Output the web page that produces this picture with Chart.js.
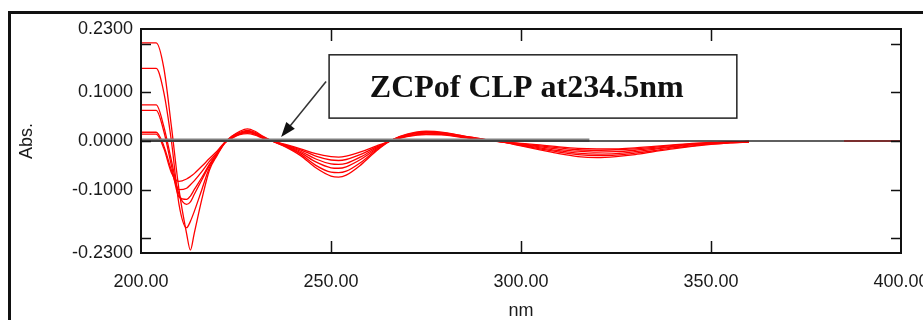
<!DOCTYPE html>
<html>
<head>
<meta charset="utf-8">
<script src="https://cdn.jsdelivr.net/npm/chart.js@4.4.1/dist/chart.umd.min.js"></script>
<style>
  html, body { margin: 0; padding: 0; background: #fff; }
  #wrap { width: 923px; height: 320px; }
</style>
</head>
<body>
<div id="wrap"><canvas id="spectra"></canvas></div>
<script>
// wavelength grid (nm) shared by all derivative spectra
var wavelengths = [200, 204, 206, 208, 210, 212, 213, 214, 216, 218,
                   220, 222, 224, 226, 228, 230, 232, 234.5, 238, 242,
                   246, 250, 252, 254, 258, 262, 266, 270, 275, 280,
                   285, 290, 295, 300, 305, 310, 315, 320, 325, 330,
                   335, 340, 345, 350, 355, 360];

// first-derivative absorbance, one array per standard
var std1 = [0.014, 0.014, -0.015, -0.065, -0.083, -0.078, -0.073, -0.067, -0.052, -0.036,
            -0.021, -0.003, 0.006, 0.013, 0.015, 0.012, 0.006, 0, -0.007, -0.016,
            -0.026, -0.032, -0.033, -0.031, -0.022, -0.010, 0.001, 0.009, 0.013, 0.012,
            0.007, 0.003, -0.001, -0.005, -0.008, -0.012, -0.015, -0.016, -0.016, -0.014,
            -0.011, -0.008, -0.005, -0.003, -0.002, -0.001];
var std2 = [0.018, 0.018, -0.010, -0.060, -0.100, -0.097, -0.090, -0.082, -0.063, -0.042,
            -0.024, -0.004, 0.007, 0.014, 0.017, 0.014, 0.007, 0, -0.008, -0.018,
            -0.031, -0.039, -0.040, -0.038, -0.027, -0.012, 0.001, 0.010, 0.014, 0.013,
            0.008, 0.003, -0.001, -0.006, -0.010, -0.014, -0.018, -0.019, -0.018, -0.016,
            -0.013, -0.009, -0.006, -0.004, -0.002, -0.001];
var std3 = [0.063, 0.063, 0.020, -0.050, -0.115, -0.120, -0.113, -0.100, -0.075, -0.048,
            -0.026, -0.004, 0.008, 0.015, 0.019, 0.015, 0.007, 0, -0.009, -0.021,
            -0.037, -0.047, -0.048, -0.046, -0.032, -0.014, 0.002, 0.011, 0.016, 0.014,
            0.008, 0.003, -0.002, -0.007, -0.012, -0.017, -0.021, -0.023, -0.022, -0.019,
            -0.015, -0.011, -0.007, -0.005, -0.003, -0.001];
var std4 = [0.074, 0.074, 0.030, -0.040, -0.110, -0.130, -0.125, -0.110, -0.080, -0.050,
            -0.027, -0.004, 0.009, 0.016, 0.020, 0.016, 0.008, 0, -0.010, -0.024,
            -0.043, -0.055, -0.056, -0.053, -0.037, -0.016, 0.002, 0.012, 0.017, 0.015,
            0.009, 0.003, -0.002, -0.008, -0.014, -0.020, -0.025, -0.027, -0.026, -0.022,
            -0.017, -0.012, -0.008, -0.005, -0.003, -0.002];
var std5 = [0.149, 0.149, 0.100, 0.000, -0.130, -0.178, -0.165, -0.145, -0.100, -0.055,
            -0.028, -0.004, 0.010, 0.018, 0.022, 0.018, 0.009, 0, -0.011, -0.027,
            -0.050, -0.064, -0.065, -0.062, -0.043, -0.018, 0.002, 0.013, 0.018, 0.016,
            0.010, 0.004, -0.002, -0.009, -0.016, -0.023, -0.028, -0.030, -0.029, -0.025,
            -0.020, -0.014, -0.010, -0.006, -0.004, -0.002];
var std6 = [0.2015, 0.2015, 0.150, 0.030, -0.100, -0.190, -0.224, -0.190, -0.120, -0.060,
            -0.030, -0.005, 0.010, 0.020, 0.025, 0.020, 0.010, 0, -0.012, -0.030,
            -0.055, -0.072, -0.074, -0.070, -0.048, -0.020, 0.002, 0.014, 0.020, 0.017,
            0.010, 0.004, -0.002, -0.010, -0.018, -0.026, -0.032, -0.034, -0.032, -0.028,
            -0.022, -0.016, -0.011, -0.007, -0.004, -0.002];

// blank / baseline traces
var blankX = [200, 318];
var blankY = [0.0015, 0.0015];
var zeroX = [200, 385];
var zeroY = [0, 0];
var tailX = [385, 400];
var tailY = [0, 0];

// axis ticks
var xTickStep = 50;
var yTickLabels = [-0.23, -0.1, 0, 0.1, 0.23];
var yTickMarks = [-0.2, -0.1, 0, 0.1, 0.2];
var xTickMarks = [250, 300, 350];

// zero-crossing note
var zcpWavelength = 234.5;
var noteText = 'ZCPof CLP at234.5nm';

function pts(xs, ys) {
    var out = [];
    for (var i = 0; i < xs.length; i++) {
        out.push({ x: xs[i], y: ys[i] });
    }
    return out;
}

var spectra = [std1, std2, std3, std4, std5, std6];
var datasets = [
    { label: 'zero', data: pts(zeroX, zeroY), borderColor: '#2a2a2a', borderWidth: 1.5 },
    { label: 'blank', data: pts(blankX, blankY), borderColor: '#808080', borderWidth: 3.5 },
    { label: 'tail', data: pts(tailX, tailY), borderColor: '#7a2e2e', borderWidth: 2 }
];
for (var s = 0; s < spectra.length; s++) {
    datasets.push({
        label: 'std' + (s + 1),
        data: pts(wavelengths, spectra[s]),
        borderColor: '#ff0000',
        borderWidth: 1.3,
        cubicInterpolationMode: 'monotone'
    });
}

var labelFont = '"Liberation Sans", Arial, sans-serif';

var frameAndMarks = {
    id: 'frameAndMarks',
    beforeDraw: function (chart) {
        var ctx = chart.ctx;
        ctx.save();
        ctx.fillStyle = '#ffffff';
        ctx.fillRect(0, 0, chart.width, chart.height);
        // outer window frame
        ctx.strokeStyle = '#111';
        ctx.lineWidth = 3;
        ctx.strokeRect(9.5, 12.5, chart.width + 40, chart.height + 40);
        ctx.restore();
    },
    afterDraw: function (chart) {
        var ctx = chart.ctx;
        var a = chart.chartArea;
        var xs = chart.scales.x, ys = chart.scales.y;
        ctx.save();

        // plot box
        ctx.strokeStyle = '#111';
        ctx.lineWidth = 2;
        ctx.strokeRect(a.left, a.top, a.right - a.left, a.bottom - a.top);

        // inward tick marks on all four sides
        ctx.lineWidth = 1.5;
        ctx.beginPath();
        yTickMarks.forEach(function (v) {
            var y = Math.round(ys.getPixelForValue(v)) + 0.5;
            ctx.moveTo(a.left, y); ctx.lineTo(a.left + 10, y);
            ctx.moveTo(a.right, y); ctx.lineTo(a.right - 10, y);
        });
        xTickMarks.forEach(function (v) {
            var x = Math.round(xs.getPixelForValue(v)) + 0.5;
            ctx.moveTo(x, a.bottom); ctx.lineTo(x, a.bottom - 12);
            ctx.moveTo(x, a.top); ctx.lineTo(x, a.top + 12);
        });
        ctx.stroke();

        // note box
        var bx0 = xs.getPixelForValue(249.5), bx1 = xs.getPixelForValue(356.8);
        var by0 = ys.getPixelForValue(0.177), by1 = ys.getPixelForValue(0.047);
        ctx.fillStyle = '#fff';
        ctx.fillRect(bx0, by0, bx1 - bx0, by1 - by0);
        ctx.strokeStyle = '#222';
        ctx.lineWidth = 1.5;
        ctx.strokeRect(bx0, by0, bx1 - bx0, by1 - by0);
        ctx.fillStyle = '#111';
        ctx.font = 'bold 32px "Liberation Serif", "Times New Roman", serif';
        ctx.textAlign = 'center';
        ctx.textBaseline = 'middle';
        ctx.fillText(noteText, xs.getPixelForValue(301.5), ys.getPixelForValue(0.107));

        // arrow from the box to the zero crossing
        var tx = xs.getPixelForValue(zcpWavelength) + 9;
        var ty = ys.getPixelForValue(0) - 4;
        var sx = bx0 - 3, sy = ys.getPixelForValue(0.122);
        var ang = Math.atan2(ty - sy, tx - sx);
        ctx.strokeStyle = '#333';
        ctx.lineWidth = 1.5;
        ctx.beginPath();
        ctx.moveTo(sx, sy);
        ctx.lineTo(tx - 12 * Math.cos(ang), ty - 12 * Math.sin(ang));
        ctx.stroke();
        ctx.fillStyle = '#111';
        ctx.beginPath();
        ctx.moveTo(tx, ty);
        ctx.lineTo(tx - 15 * Math.cos(ang) + 5.5 * Math.sin(ang), ty - 15 * Math.sin(ang) - 5.5 * Math.cos(ang));
        ctx.lineTo(tx - 15 * Math.cos(ang) - 5.5 * Math.sin(ang), ty - 15 * Math.sin(ang) + 5.5 * Math.cos(ang));
        ctx.closePath();
        ctx.fill();

        ctx.restore();
    }
};

var chart = new Chart(document.getElementById('spectra').getContext('2d'), {
    type: 'line',
    data: { datasets: datasets },
    options: {
        responsive: true,
        maintainAspectRatio: false,
        animation: false,
        layout: { padding: { top: 29, right: 22, left: 0, bottom: 0 } },
        elements: { point: { radius: 0 }, line: { fill: false, tension: 0 } },
        plugins: { legend: { display: false }, tooltip: { enabled: false } },
        scales: {
            x: {
                type: 'linear',
                min: 200,
                max: 400,
                grid: { display: false, drawTicks: false },
                border: { display: false },
                ticks: {
                    stepSize: xTickStep,
                    padding: 18,
                    maxRotation: 0,
                    color: '#1a1a1a',
                    font: { family: labelFont, size: 18 },
                    callback: function (v) { return Number(v).toFixed(2); }
                },
                title: {
                    display: true,
                    text: 'nm',
                    color: '#1a1a1a',
                    font: { family: labelFont, size: 18, lineHeight: 1 },
                    padding: { top: 0, bottom: 0 }
                },
                afterFit: function (scale) {
                    scale.height = 67;
                    scale.paddingLeft = 0;
                    scale.paddingRight = 0;
                }
            },
            y: {
                min: -0.23,
                max: 0.23,
                grid: { display: false, drawTicks: false },
                border: { display: false },
                afterBuildTicks: function (scale) {
                    scale.ticks = yTickLabels.map(function (v) { return { value: v }; });
                },
                ticks: {
                    padding: 8,
                    color: '#1a1a1a',
                    font: { family: labelFont, size: 18 },
                    callback: function (v) { return Number(v).toFixed(4); }
                },
                title: {
                    display: true,
                    text: 'Abs.',
                    color: '#1a1a1a',
                    font: { family: labelFont, size: 18 },
                    padding: { top: 16, bottom: 0 }
                },
                afterFit: function (scale) {
                    scale.width = 141;
                }
            }
        }
    },
    plugins: [frameAndMarks]
});
</script>
</body>
</html>
